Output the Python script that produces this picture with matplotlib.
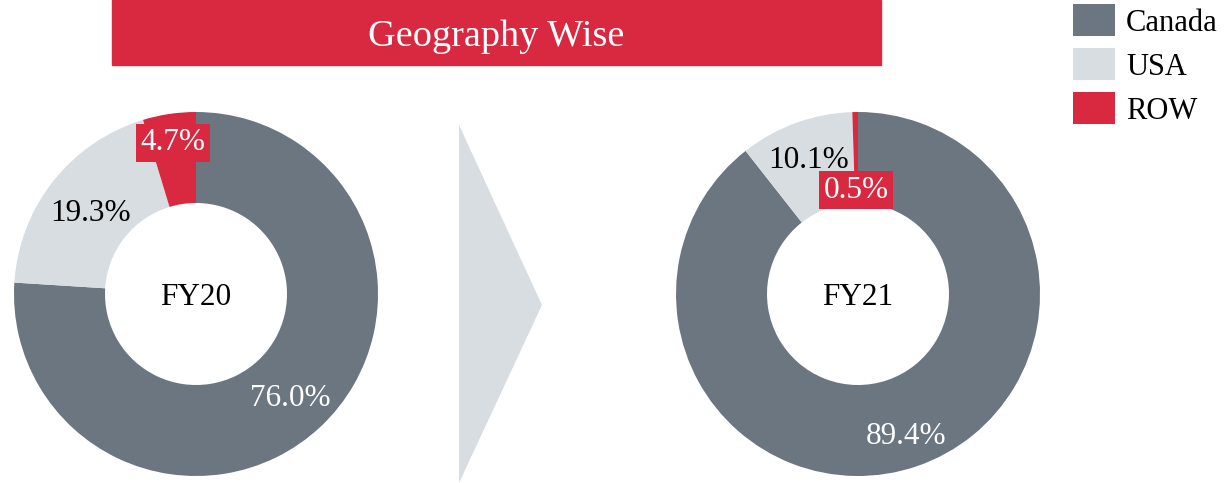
import numpy as np
import matplotlib
matplotlib.use("Agg")
import matplotlib.pyplot as plt
from matplotlib.patches import Rectangle, Polygon

plt.rcParams['font.family'] = ['Liberation Serif', 'DejaVu Serif']

categories = ["Canada", "USA", "ROW"]
years = ["FY20", "FY21"]
fy20_values = [76.0, 19.3, 4.7]
fy21_values = [89.4, 10.1, 0.5]
title = "Geography Wise"

colors = ["#6b7680", "#d8dde1", "#d92940"]
text_colors = ["white", "black", "white"]

W, H = 1230, 483
fig = plt.figure(figsize=(W / 100, H / 100), dpi=100)
ax = fig.add_axes([0, 0, 1, 1])
ax.set_xlim(0, W)
ax.set_ylim(0, H)
ax.set_aspect("equal")
ax.axis("off")

# title banner
ax.add_patch(Rectangle((112, H - 65), 769, 65, color="#d92940", zorder=1))
ax.text(496, H - 33, title, color="white", fontsize=27.5, ha="center", va="center_baseline")

# chevron
ax.add_patch(Polygon([(459, H - 125), (542, H - 305), (459, H - 483)],
                     closed=True, color="#d8dde1", lw=0))

# donuts
centers = [(196, H - 294), (858, H - 294)]
radius = 182
label_dist = [[0.76, 0.74, 0.86], [0.81, 0.80, 0.59]]
for vals, c, yr, dists in zip([fy20_values, fy21_values], centers, years, label_dist):
    wedges, _ = ax.pie(vals, colors=colors, startangle=90, counterclock=False,
                       center=c, radius=radius,
                       wedgeprops=dict(width=radius * 0.5, linewidth=0))
    for w, v, tc, d, cat in zip(wedges, vals, text_colors, dists, categories):
        ang = np.deg2rad((w.theta1 + w.theta2) / 2)
        x = c[0] + d * radius * np.cos(ang)
        y = c[1] + d * radius * np.sin(ang)
        kw = {}
        if cat == "ROW":
            kw["bbox"] = dict(boxstyle="square,pad=0.14", fc="#d92940", ec="none")
        ax.text(x, y, f"{v:.1f}%", color=tc, fontsize=22.5, ha="center",
                va="center_baseline", **kw)
    ax.text(c[0], c[1], yr, fontsize=22.5, ha="center", va="center_baseline", color="black")

ax.set_xlim(0, W)
ax.set_ylim(0, H)

# legend
for i, (cat, col) in enumerate(zip(categories, colors)):
    y0 = H - (4 + 44 * i) - 32
    ax.add_patch(Rectangle((1073, y0), 42, 32, color=col, lw=0))
    ax.text(1126, y0 + 16, cat, fontsize=22, ha="left", va="center_baseline", color="black")

fig.savefig("out.png", dpi=100)
